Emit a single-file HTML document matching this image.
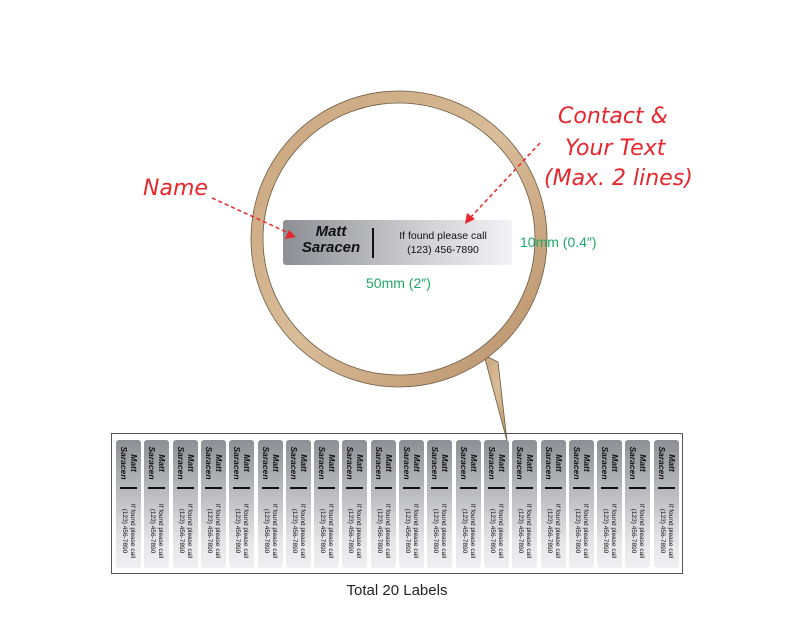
<!DOCTYPE html>
<html><head><style>
body{margin:0;width:794px;height:635px;background:#fff;position:relative;overflow:hidden;font-family:"Liberation Sans",sans-serif}
.r{position:absolute;color:#e8262c;font-style:italic;font-size:22px;font-family:"DejaVu Sans","Liberation Sans",sans-serif;font-weight:300}
.g{position:absolute;color:#1fa76b;font-size:14px}
.box{position:absolute;left:111px;top:433px;width:572px;height:141px;border:1px solid #555;box-sizing:border-box}
.lab{position:absolute;top:440px;width:25px;height:128px;border-radius:3px;background:linear-gradient(#8e8f94,#e6e6e9 80%,#f0f0f2)}
.lab .t{position:absolute;left:0;top:0;width:128px;height:25px;transform-origin:0 0;transform:translate(25px,0) rotate(90deg);font-size:7px;color:#111}
</style></head><body>
<svg width="794" height="635" style="position:absolute;left:0;top:0">
<defs><linearGradient id="rg" x1="0" y1="0" x2="1" y2="1"><stop offset="0" stop-color="#c8a47c"/><stop offset="0.5" stop-color="#d9bc98"/><stop offset="1" stop-color="#b89068"/></linearGradient>
<linearGradient id="lg" x1="0" x2="1"><stop offset="0" stop-color="#8e8f94"/><stop offset="0.6" stop-color="#cfcfd3"/><stop offset="1" stop-color="#f3f3f5"/></linearGradient></defs>
<path d="M484,355 L507,441 L498,362 Z" fill="url(#rg)" stroke="#6b5a45" stroke-width="0.8"/>
<circle cx="399" cy="239" r="142" fill="none" stroke="url(#rg)" stroke-width="12"/>
<circle cx="399" cy="239" r="148" fill="none" stroke="#6b5a45" stroke-width="0.8"/>
<circle cx="399" cy="239" r="136" fill="none" stroke="#6b5a45" stroke-width="0.8"/>
<rect x="283" y="220" width="229" height="45" rx="3" fill="url(#lg)"/>
<line x1="373" y1="228" x2="373" y2="258" stroke="#111" stroke-width="2"/>
<line x1="212" y1="198" x2="293" y2="235" stroke="#e8262c" stroke-width="1.5" stroke-dasharray="4,3"/>
<polygon points="296,237 285,239 289,230" fill="#e8262c"/>
<line x1="540" y1="143" x2="470" y2="218" stroke="#e8262c" stroke-width="1.5" stroke-dasharray="4,3"/>
<polygon points="465,224 467,213 475,219" fill="#e8262c"/>
</svg>
<div style="position:absolute;left:296px;top:224px;width:70px;text-align:center;font-weight:bold;font-style:italic;font-size:15px;line-height:16px;color:#111">Matt<br>Saracen</div>
<div style="position:absolute;left:388px;top:229px;width:110px;text-align:center;font-size:10.5px;line-height:14px;color:#111">If found please call<br>(123) 456-7890</div>
<div class="r" style="left:143px;top:176px">Name</div>
<div class="r" style="left:558px;top:104px">Contact &amp;</div>
<div class="r" style="left:565px;top:136px">Your Text</div>
<div class="r" style="left:544px;top:166px">(Max. 2 lines)</div>
<div class="g" style="left:520px;top:234px">10mm (0.4″)</div>
<div class="g" style="left:366px;top:275px">50mm (2″)</div>
<div class="box"></div>
<div id="labs"></div>
<div style="position:absolute;left:0;width:794px;top:582px;text-align:center;font-size:15px;color:#222">Total 20 Labels</div>
<script>
var h='';for(var i=0;i<20;i++){var x=116+i*28.3;h+='<div class="lab" style="left:'+x+'px"><div class="t"><div style="position:absolute;left:5px;top:2px;font-weight:bold;font-style:italic;font-size:8.5px;line-height:10px;text-align:center;width:36px">Matt<br>Saracen</div><div style="position:absolute;left:47px;top:4px;width:1.5px;height:17px;background:#111"></div><div style="position:absolute;left:62px;top:5px;font-size:6.5px;line-height:8px;text-align:center;width:58px">If found please call<br>(123) 456-7890</div></div></div>'}
document.getElementById('labs').innerHTML=h;
</script>
</body></html>
